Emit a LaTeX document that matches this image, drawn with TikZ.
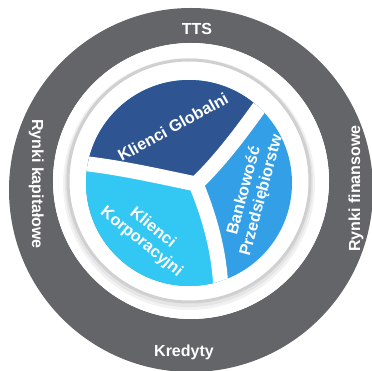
\documentclass[tikz,border=0pt]{standalone}
\usepackage{fontspec}
\setmainfont{Liberation Sans}
\definecolor{ringgrey}{RGB}{100,101,105}
\definecolor{darkblue}{RGB}{46,85,146}
\definecolor{medblue}{RGB}{50,159,230}
\definecolor{cyanblue}{RGB}{51,199,243}
\definecolor{rimgrey}{RGB}{208,208,210}
\pgfdeclareradialshading{ringglow}{\pgfpoint{0bp}{0bp}}{color(0bp)=(white); color(45bp)=(white); color(50bp)=(ringgrey!45)}
\tikzset{
  outerlbl/.style={text=white, font=\fontsize{16}{18}\selectfont\bfseries, inner sep=0pt},
  innerlbl/.style={text=white, font=\fontsize{16.3}{18}\selectfont\bfseries, align=center, inner sep=0pt},
  gap/.style={draw=white, line width=15pt},
}
\begin{document}
\begin{tikzpicture}[x=1pt,y=-1pt]
\useasboundingbox (0,0) rectangle (372,371);
% outer grey ring
\fill[ringgrey, even odd rule] (191,190) circle (182) (191,181) circle (138);
% inner white area with glow
\shade[shading=ringglow] (191,181) circle (138);
% disc shadow and rim
\fill[black, opacity=0.05] (189,184) circle (126);
\fill[black, opacity=0.05] (189,183) circle (124);
\fill[white] (189,181) circle (122);
\draw[rimgrey, line width=3pt] (189,181) circle (121);
% segments
\coordinate (J) at (196,184);
\coordinate (L) at (80,163);
\coordinate (U) at (266,98);
\coordinate (B) at (221,292);
\begin{scope}
\clip (189,183) circle (103);
\fill[medblue] (189,183) circle (110);
\fill[darkblue] (J) .. controls (158,176) and (118,167) .. (L) -- (-20,144) -- (-20,-40) -- (379,-40) -- (U) .. controls (246,126) and (223,158) .. (J) -- cycle;
\fill[cyanblue] (J) .. controls (158,176) and (118,167) .. (L) -- (-20,144) -- (-20,400) -- (247,400) -- (B) .. controls (220,256) and (211,220) .. (J) -- cycle;
\draw[gap] (J) .. controls (158,176) and (118,167) .. (L);
\draw[gap] (J) .. controls (223,158) and (246,126) .. (U);
\draw[gap] (J) .. controls (211,220) and (220,256) .. (B);
\fill[white] (J) circle (7.5);
\end{scope}
% labels
\node[innerlbl, rotate=29] (kg) at (173,127) {Klienci Globalni};
\node[innerlbl, rotate=75] (bp) at (253,193) {Bankowość\\Przedsiębiorstw};
\node[innerlbl, rotate=-39] (kk) at (147,235) {Klienci\\Korporacyjni};
\node[outerlbl, anchor=base] (tts) at (197,34.5) {TTS};
\node[outerlbl, anchor=base] (kr) at (184,356) {Kredyty};
\node[outerlbl, anchor=base, rotate=-90] (rk) at (32,184) {Rynki kapitałowe};
\node[outerlbl, anchor=base, rotate=90] (rf) at (360,188.5) {Rynki finansowe};
\end{tikzpicture}
\end{document}
